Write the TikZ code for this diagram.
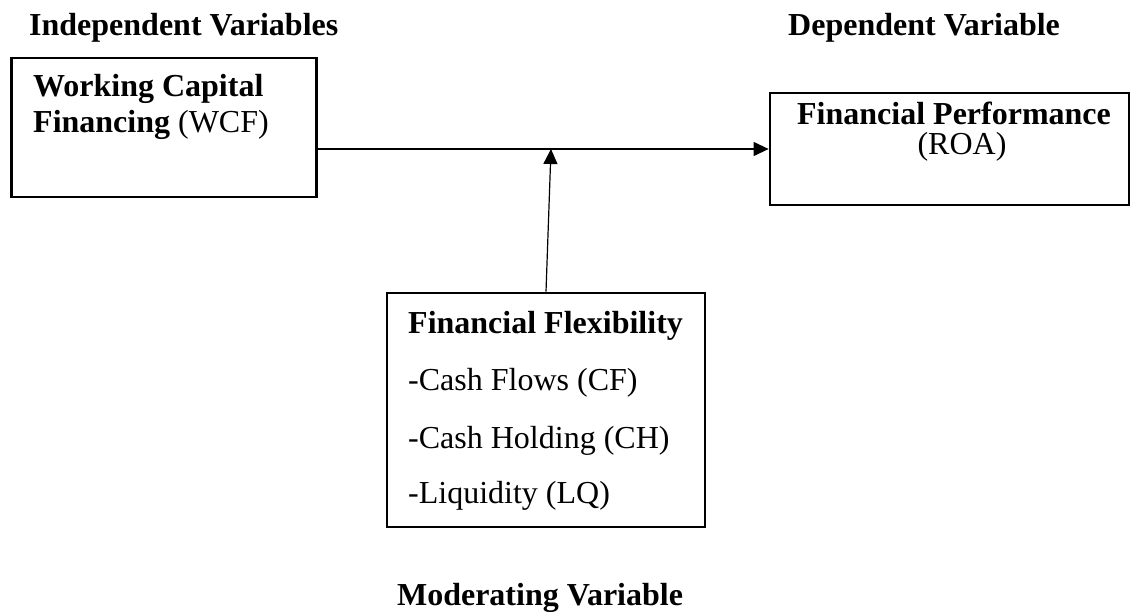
\documentclass[tikz,border=0pt]{standalone}
\usepackage{fontspec}
\setmainfont{Liberation Serif}
\usetikzlibrary{arrows.meta,positioning}

\newcommand{\bodysize}{\fontsize{32}{38}\selectfont}

\tikzset{
	varbox/.style={draw, line width=2.8pt, inner sep=0pt},
	link/.style={line width=1.2pt, -{Triangle[length=15pt,width=14pt]}},
	boxtext/.style={anchor=base west, inner sep=0pt},
	heading/.style={font=\bodysize\bfseries, inner sep=0pt},
}

\begin{document}
\begin{tikzpicture}[x=1pt,y=-1pt,font=\bodysize]
	
	\useasboundingbox (0,0) rectangle (1131,612);
	
	% the three variable boxes
	\node[varbox, minimum width=305pt, minimum height=139pt] (wcf) at (164.2,127.5) {};
	\node[varbox, minimum width=359pt, minimum height=112pt] (roa) at (949.5,149) {};
	\node[varbox, minimum width=318pt, minimum height=234pt] (flex) at (546,410) {};
	
	% headings
	\node[heading, anchor=base west] (indep) at (29,36) {Independent Variables};
	\node[heading, anchor=base west] (dep) at (788,36) {Dependent Variable};
	\node[heading, anchor=base] (moder) at (540,605) {Moderating Variable};
	
	% box texts
	\node[boxtext] (wcf1) at (33,97) {\textbf{Working Capital}};
	\node[boxtext] (wcf2) at (33,133) {\textbf{Financing} (WCF)};
	
	\node[boxtext, anchor=base] (roa1) at (954,125) {\textbf{Financial Performance}};
	\node[boxtext, anchor=base] (roa2) at (962,155) {(ROA)};
	
	\node[boxtext] (flex1) at (408,333) {\textbf{Financial Flexibility}};
	\node[boxtext] (flex2) at (408,390) {-Cash Flows (CF)};
	\node[boxtext] (flex3) at (408,448) {-Cash Holding (CH)};
	\node[boxtext] (flex4) at (408,503) {-Liquidity (LQ)};
	
	% connectors
	\coordinate (meet) at (551,149);
	\draw[link] (wcf.east |- meet) -- (roa.west |- meet);
	\draw[link] (flex.north) -- (meet);
	
\end{tikzpicture}
\end{document}
